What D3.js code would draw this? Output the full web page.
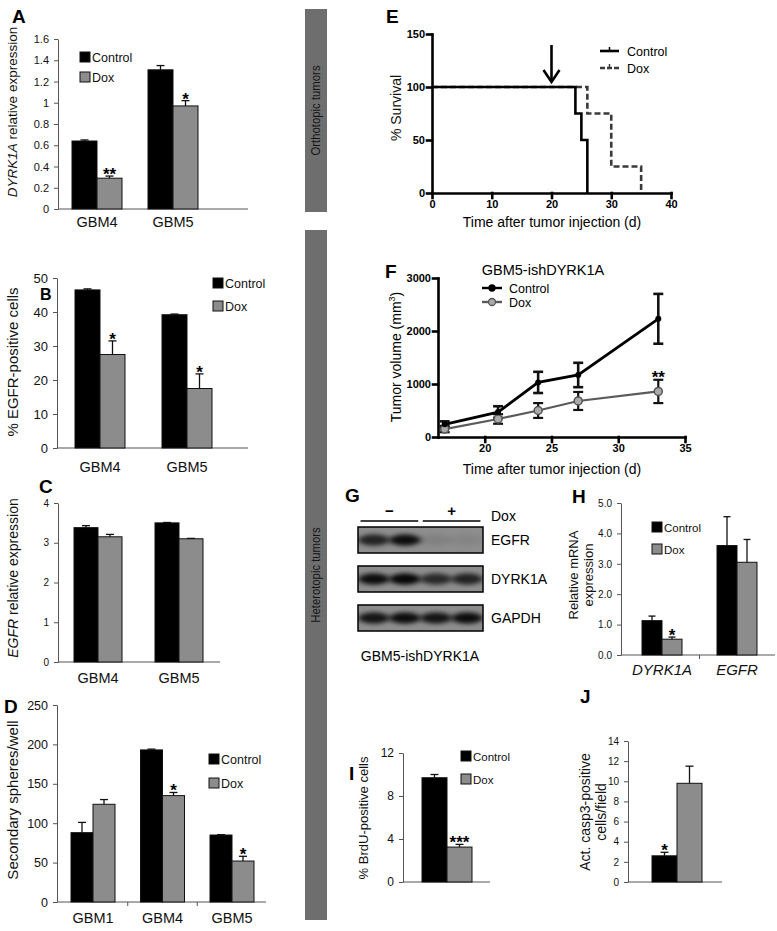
<!DOCTYPE html>
<html><head><meta charset="utf-8">
<script src="https://cdn.jsdelivr.net/npm/d3@7"></script>
<style>body{margin:0;background:#fff} svg{display:block} text{font-family:"Liberation Sans",Arial,Helvetica,sans-serif}</style>
</head><body>
<script>
// ---------------- DATA ----------------
const seriesNames = ["Control", "Dox"];

// A
const aGroups = ["GBM4", "GBM5"];
const aControl = [0.64, 1.31];
const aControlErr = [0.01, 0.04];
const aDox = [0.29, 0.97];
const aDoxErr = [0.02, 0.05];
const aStarsControl = ["", ""];
const aStarsDox = ["**", "*"];
const aTicks = [0, 0.2, 0.4, 0.6, 0.8, 1, 1.2, 1.4, 1.6];

// B
const bGroups = ["GBM4", "GBM5"];
const bControl = [46.5, 39.2];
const bControlErr = [0.3, 0.2];
const bDox = [27.5, 17.5];
const bDoxErr = [4.0, 4.3];
const bStarsControl = ["", ""];
const bStarsDox = ["*", "*"];
const bTicks = [0, 10, 20, 30, 40, 50];

// C
const cGroups = ["GBM4", "GBM5"];
const cControl = [3.38, 3.50];
const cControlErr = [0.05, 0.01];
const cDox = [3.15, 3.10];
const cDoxErr = [0.06, 0.01];
const cStarsControl = ["", ""];
const cStarsDox = ["", ""];
const cTicks = [0, 1, 2, 3, 4];

// D
const dGroups = ["GBM1", "GBM4", "GBM5"];
const dControl = [88, 193, 85];
const dControlErr = [13, 1, 0.5];
const dDox = [124, 135, 52];
const dDoxErr = [6, 4, 6];
const dStarsControl = ["", "", ""];
const dStarsDox = ["", "*", "*"];
const dTicks = [0, 50, 100, 150, 200, 250];

// E (survival)
const eTimeTicks = [0, 10, 20, 30, 40];
const eSurvTicks = [0, 50, 100, 150];
const eControlTime = [0, 24, 25, 26];
const eControlSurv = [100, 75, 50, 0];
const eDoxTime = [0, 26, 30, 35];
const eDoxSurv = [100, 75, 25, 0];
const eArrowDay = 20;

// F (tumor volume)
const fDays = [17, 21, 24, 27, 33];
const fControl = [240, 470, 1030, 1170, 2230];
const fControlErr = [55, 110, 200, 230, 470];
const fDox = [150, 340, 500, 680, 860];
const fDoxErr = [60, 90, 140, 170, 220];
const fXTicks = [20, 25, 30, 35];
const fYTicks = [0, 1000, 2000, 3000];

// G (western blot)
const gProteins = ["EGFR", "DYRK1A", "GAPDH"];
const gLaneDox = ["−", "−", "+", "+"];
const gEGFR = [0.75, 0.9, 0.08, 0.05];
const gDYRK1A = [0.9, 0.95, 0.7, 0.75];
const gGAPDH = [0.85, 0.9, 0.85, 0.9];

// H
const hGroups = ["DYRK1A", "EGFR"];
const hControl = [1.13, 3.6];
const hControlErr = [0.15, 0.95];
const hDox = [0.52, 3.05];
const hDoxErr = [0.07, 0.75];
const hStarsControl = ["", ""];
const hStarsDox = ["*", ""];
const hTicks = [0, 1, 2, 3, 4, 5];

// I
const iGroups = [""];
const iControl = [9.7];
const iControlErr = [0.3];
const iDox = [3.25];
const iDoxErr = [0.25];
const iStarsControl = [""];
const iStarsDox = ["***"];
const iTicks = [0, 4, 8, 12];

// J
const jGroups = [""];
const jControl = [2.6];
const jControlErr = [0.35];
const jDox = [9.8];
const jDoxErr = [1.7];
const jStarsControl = ["*"];
const jStarsDox = [""];
const jTicks = [0, 2, 4, 6, 8, 10, 12, 14];

// ---------------- DRAWING ----------------
const svg = d3.select("body").append("svg").attr("width", 777).attr("height", 931);
const CTRL = "#000000", DOX = "#8c8c8c";

function letter(t, x, y, size) {
  svg.append("text").attr("x", x).attr("y", y).text(t)
    .attr("font-size", size || 19).attr("font-weight", "bold");
}

function rotTitle(lines, x, y, size, gap) {
  lines.forEach((parts, li) => {
    const t = svg.append("text")
      .attr("transform", `translate(${x + li * (gap || size * 1.2)},${y}) rotate(-90)`)
      .attr("text-anchor", "middle").attr("font-size", size).attr("fill", "#111");
    parts.forEach(p => t.append("tspan").text(p[0]).attr("font-style", p[1] ? "italic" : "normal"));
  });
}

function barPanel(c) {
  const g = svg.append("g");
  const y = d3.scaleLinear().domain([0, c.yMax]).range([c.yBase, c.yTop]);
  const xc = d3.scalePoint().domain(c.groups).range(c.centers);
  const xs = d3.scaleBand().domain(seriesNames).range([-c.barW, c.barW]);
  const ax = g.append("g").attr("transform", `translate(${c.x0},0)`)
    .call(d3.axisLeft(y).tickValues(c.ticks).tickFormat(c.fmt).tickSize(4).tickSizeOuter(0).tickPadding(c.tickPad || 5));
  ax.selectAll("path,line").attr("stroke", "#555");
  ax.selectAll("text").attr("font-size", c.tickFont).attr("fill", "#111")
    .attr("font-family", c.tickFamily || "'Liberation Sans', Arial, sans-serif");
  g.append("line").attr("x1", c.x0).attr("x2", c.x1).attr("y1", c.yBase).attr("y2", c.yBase).attr("stroke", "#555");
  if (c.groupTicks) {
    for (let i = 0; i < c.groups.length - 1; i++) {
      const mx = (xc(c.groups[i]) + xc(c.groups[i + 1])) / 2;
      g.append("line").attr("x1", mx).attr("x2", mx).attr("y1", c.yBase).attr("y2", c.yBase + 4).attr("stroke", "#555");
    }
  }
  const series = [
    { name: "Control", vals: c.ctrl, errs: c.ctrlErr, stars: c.starsCtrl, fill: CTRL },
    { name: "Dox", vals: c.dox, errs: c.doxErr, stars: c.starsDox, fill: DOX }
  ];
  series.forEach(s => {
    c.groups.forEach((grp, i) => {
      const bx = xc(grp) + xs(s.name), bw = xs.bandwidth();
      const v = s.vals[i], e = s.errs[i];
      g.append("rect").attr("x", bx).attr("y", y(v)).attr("width", bw).attr("height", y(0) - y(v))
        .attr("fill", s.fill).attr("stroke", "#111").attr("stroke-width", 1);
      const cx = bx + bw / 2;
      g.append("line").attr("x1", cx).attr("x2", cx).attr("y1", y(v)).attr("y2", y(v + e)).attr("stroke", "#111").attr("stroke-width", 1.3);
      g.append("line").attr("x1", cx - c.capW / 2).attr("x2", cx + c.capW / 2).attr("y1", y(v + e)).attr("y2", y(v + e)).attr("stroke", "#111").attr("stroke-width", 1.3);
      if (s.stars && s.stars[i]) {
        g.append("text").attr("x", cx).attr("y", y(v + e) + 4).attr("text-anchor", "middle")
          .attr("font-size", 17).attr("font-weight", "bold").text(s.stars[i]);
      }
    });
  });
  if (c.labelY) {
    c.groups.forEach(grp => {
      g.append("text").attr("x", xc(grp)).attr("y", c.labelY).attr("text-anchor", "middle")
        .attr("font-size", c.labelSize).attr("font-style", c.italicLabels ? "italic" : "normal").attr("fill", "#111").text(grp);
    });
  }
  if (c.legend) {
    series.forEach((s, i) => {
      const ly = c.legend.y + i * c.legend.dy;
      g.append("rect").attr("x", c.legend.x).attr("y", ly - 5).attr("width", 10).attr("height", 10)
        .attr("fill", s.fill).attr("stroke", "#111").attr("stroke-width", 1);
      g.append("text").attr("x", c.legend.x + 12).attr("y", ly + 4.5).attr("font-size", c.legend.size).attr("fill", "#111").text(s.name);
    });
  }
  if (c.title) rotTitle(c.title.lines, c.title.x, c.title.y, c.title.size, c.title.gap);
}

// side bars
svg.append("rect").attr("x", 305).attr("y", 9).attr("width", 22).attr("height", 203).attr("fill", "#6e6e6e");
svg.append("rect").attr("x", 305).attr("y", 230).attr("width", 22).attr("height", 690).attr("fill", "#6e6e6e");
[["Orthotopic tumors", 110.5], ["Heterotopic tumors", 575]].forEach(([t, cy]) => {
  svg.append("text").attr("transform", `translate(320,${cy}) rotate(-90)`).attr("text-anchor", "middle")
    .attr("font-size", 12.5).attr("fill", "#151515").attr("textLength", t.length * 5.3).attr("lengthAdjust", "spacingAndGlyphs").text(t);
});

// Panel A
letter("A", 12, 23);
barPanel({ groups: aGroups, ctrl: aControl, ctrlErr: aControlErr, dox: aDox, doxErr: aDoxErr,
  starsCtrl: aStarsControl, starsDox: aStarsDox, ticks: aTicks, fmt: d => String(d), tickFont: 11,
  x0: 58, x1: 248, yBase: 209, yTop: 39, yMax: 1.6, centers: [97, 173], barW: 25, capW: 8,
  labelY: 227, labelSize: 14.5, legend: { x: 80, y: 57, dy: 20, size: 12.5 },
  title: { lines: [[["DYRK1A", true], [" relative expression", false]]], x: 17, y: 112, size: 13.5 } });

// Panel B
letter("B", 40, 300, 16);
barPanel({ groups: bGroups, ctrl: bControl, ctrlErr: bControlErr, dox: bDox, doxErr: bDoxErr,
  starsCtrl: bStarsControl, starsDox: bStarsDox, ticks: bTicks, fmt: d => String(d), tickFont: 13,
  x0: 57, x1: 248, yBase: 448, yTop: 278, yMax: 50, centers: [100, 187], barW: 25, capW: 8,
  labelY: 472, labelSize: 14.5, legend: { x: 213, y: 283, dy: 23, size: 12.5 },
  title: { lines: [[["% EGFR-positive cells", false]]], x: 18, y: 362, size: 15 } });

// Panel C
letter("C", 39, 493);
barPanel({ groups: cGroups, ctrl: cControl, ctrlErr: cControlErr, dox: cDox, doxErr: cDoxErr,
  starsCtrl: cStarsControl, starsDox: cStarsDox, ticks: cTicks, fmt: d => String(d), tickFont: 10,
  tickFamily: "'DejaVu Sans', sans-serif",
  x0: 58, x1: 220, yBase: 662, yTop: 503, yMax: 4, centers: [98, 179], barW: 24, capW: 8,
  labelY: 683, labelSize: 14.5,
  title: { lines: [[["EGFR", true], [" relative expression", false]]], x: 18, y: 578, size: 14 } });

// Panel D
letter("D", 4, 713);
barPanel({ groups: dGroups, ctrl: dControl, ctrlErr: dControlErr, dox: dDox, doxErr: dDoxErr,
  starsCtrl: dStarsControl, starsDox: dStarsDox, ticks: dTicks, fmt: d => String(d), tickFont: 12.5,
  x0: 57, x1: 266, yBase: 902, yTop: 705, yMax: 250, centers: [93, 232], barW: 22, capW: 8,
  labelY: 923, labelSize: 14.5, groupTicks: true, legend: { x: 209, y: 759, dy: 24, size: 12.5 },
  title: { lines: [[["Secondary spheres/well", false]]], x: 18, y: 800, size: 15 } });

// Panel E
letter("E", 386, 23);
(function () {
  const g = svg.append("g");
  const x = d3.scaleLinear().domain([0, 40]).range([432, 671]);
  const y = d3.scaleLinear().domain([0, 150]).range([193, 34]);
  const ya = g.append("g").attr("transform", "translate(432,0)")
    .call(d3.axisLeft(y).tickValues(eSurvTicks).tickSize(5).tickSizeOuter(0).tickPadding(2));
  const xa = g.append("g").attr("transform", "translate(0,193)")
    .call(d3.axisBottom(x).tickValues(eTimeTicks).tickSize(5).tickSizeOuter(0).tickPadding(2));
  [ya, xa].forEach(a => {
    a.selectAll("path,line").attr("stroke", "#000").attr("stroke-width", 2.6).attr("stroke-linecap", "square");
    a.selectAll("text").attr("font-size", 11).attr("font-weight", "bold").attr("fill", "#000");
  });
  const line = d3.line().x(d => x(d[0])).y(d => y(d[1])).curve(d3.curveStepAfter);
  g.append("path").datum(d3.zip(eDoxTime, eDoxSurv)).attr("d", line).attr("fill", "none")
    .attr("stroke", "#3a3a3a").attr("stroke-width", 2.6).attr("stroke-dasharray", "6,3");
  g.append("path").datum(d3.zip(eControlTime, eControlSurv)).attr("d", line).attr("fill", "none")
    .attr("stroke", "#000").attr("stroke-width", 2.6);
  const ax = x(eArrowDay);
  g.append("line").attr("x1", ax).attr("x2", ax).attr("y1", 45).attr("y2", 81).attr("stroke", "#000").attr("stroke-width", 2.6);
  g.append("path").attr("d", `M${ax - 8},${70} L${ax},${82} L${ax + 8},${70}`).attr("fill", "none").attr("stroke", "#000").attr("stroke-width", 2.6);
  [["Control", 51, null, "#000"], ["Dox", 68, "5,2", "#3a3a3a"]].forEach(([t, ly, dash, col]) => {
    g.append("line").attr("x1", 600).attr("x2", 619).attr("y1", ly).attr("y2", ly).attr("stroke", col).attr("stroke-width", 2.6).attr("stroke-dasharray", dash);
    g.append("line").attr("x1", 609.5).attr("x2", 609.5).attr("y1", ly - 4).attr("y2", ly + 1).attr("stroke", col).attr("stroke-width", 1.5);
    g.append("text").attr("x", 627).attr("y", ly + 4.5).attr("font-size", 12.5).text(t);
  });
  rotTitle([[["% Survival", false]]], 401, 108, 14);
  g.append("text").attr("x", 552).attr("y", 227).attr("text-anchor", "middle").attr("font-size", 14).text("Time after tumor injection (d)");
})();

// Panel F
letter("F", 385, 278);
(function () {
  const g = svg.append("g");
  const x = d3.scaleLinear().domain([16.5, 35]).range([438, 685]);
  const y = d3.scaleLinear().domain([0, 3000]).range([437, 278]);
  const ya = g.append("g").attr("transform", "translate(438,0)")
    .call(d3.axisLeft(y).tickValues(fYTicks).tickFormat(d3.format("d")).tickSize(5).tickSizeOuter(0).tickPadding(2));
  const xa = g.append("g").attr("transform", "translate(0,437)")
    .call(d3.axisBottom(x).tickValues(fXTicks).tickSize(5).tickSizeOuter(0).tickPadding(2));
  [ya, xa].forEach(a => {
    a.selectAll("path,line").attr("stroke", "#000").attr("stroke-width", 2.6).attr("stroke-linecap", "square");
    a.selectAll("text").attr("font-size", 11).attr("font-weight", "bold").attr("fill", "#000");
  });
  const line = d3.line().x(d => x(d[0])).y(d => y(d[1]));
  const sets = [
    { v: fDox, e: fDoxErr, col: "#5a5a5a", ew: 2.2, lw: 2.2 },
    { v: fControl, e: fControlErr, col: "#000", ew: 2.6, lw: 2.8 }
  ];
  sets.forEach(s => {
    fDays.forEach((d, i) => {
      const cx = x(d);
      g.append("line").attr("x1", cx).attr("x2", cx).attr("y1", y(s.v[i] - s.e[i])).attr("y2", y(s.v[i] + s.e[i])).attr("stroke", "#111").attr("stroke-width", s.ew);
      [s.v[i] - s.e[i], s.v[i] + s.e[i]].forEach(yy => g.append("line").attr("x1", cx - 5).attr("x2", cx + 5).attr("y1", y(yy)).attr("y2", y(yy)).attr("stroke", "#111").attr("stroke-width", s.ew));
    });
  });
  sets.forEach(s => {
    g.append("path").datum(d3.zip(fDays, s.v)).attr("d", line).attr("fill", "none").attr("stroke", s.col).attr("stroke-width", s.lw);
  });
  fDays.forEach((d, i) => {
    g.append("circle").attr("cx", x(d)).attr("cy", y(fDox[i])).attr("r", 4).attr("fill", "#aaa").attr("stroke", "#555").attr("stroke-width", 1.5);
    g.append("circle").attr("cx", x(d)).attr("cy", y(fControl[i])).attr("r", 3).attr("fill", "#000");
  });
  g.append("text").attr("x", x(fDays[4])).attr("y", y(fDox[4] + fDoxErr[4]) + 3).attr("text-anchor", "middle").attr("font-size", 17).attr("font-weight", "bold").text("**");
  [["Control", 288, "#000", 3, "#000", "#000"], ["Dox", 302, "#5a5a5a", 3.5, "#aaa", "#555"]].forEach(([t, ly, col, r, fill, st]) => {
    g.append("line").attr("x1", 482).attr("x2", 502).attr("y1", ly).attr("y2", ly).attr("stroke", col).attr("stroke-width", 2.4);
    g.append("circle").attr("cx", 492).attr("cy", ly).attr("r", r).attr("fill", fill).attr("stroke", st).attr("stroke-width", 1.3);
    g.append("text").attr("x", 509).attr("y", ly + 4.5).attr("font-size", 12.5).text(t);
  });
  g.append("text").attr("x", 543).attr("y", 275).attr("text-anchor", "middle").attr("font-size", 14.5).text("GBM5-ishDYRK1A");
  const tt = svg.append("text").attr("transform", "translate(401,357) rotate(-90)").attr("text-anchor", "middle").attr("font-size", 14);
  tt.append("tspan").text("Tumor volume (mm");
  tt.append("tspan").text("3").attr("font-size", 9).attr("dy", -6);
  tt.append("tspan").text(")").attr("dy", 6);
  g.append("text").attr("x", 552).attr("y", 474).attr("text-anchor", "middle").attr("font-size", 14).text("Time after tumor injection (d)");
})();

// Panel G (western blot)
letter("G", 345, 502);
(function () {
  const g = svg.append("g");
  const bx0 = 358, bx1 = 483;
  const lane = d3.scaleBand().domain(d3.range(4)).range([bx0, bx1]).paddingInner(0.08).paddingOuter(0.05);
  const row = d3.scaleBand().domain(gProteins).range([527, 631]).paddingInner(0.333);
  const intens = { EGFR: gEGFR, DYRK1A: gDYRK1A, GAPDH: gGAPDH };
  const defs = svg.append("defs");
  defs.append("filter").attr("id", "blur").attr("x", "-30%").attr("y", "-80%").attr("width", "160%").attr("height", "260%")
    .append("feGaussianBlur").attr("stdDeviation", "3,2.2");
  gProteins.forEach((p, ri) => {
    const ry = row(p), rh = row.bandwidth();
    defs.append("clipPath").attr("id", "clip" + ri).append("rect").attr("x", bx0).attr("y", ry).attr("width", bx1 - bx0).attr("height", rh);
    g.append("rect").attr("x", bx0).attr("y", ry).attr("width", bx1 - bx0).attr("height", rh).attr("fill", "#8d8d8d");
    const cg = g.append("g").attr("clip-path", `url(#clip${ri})`);
    intens[p].forEach((v, li) => {
      cg.append("ellipse").attr("cx", lane(li) + lane.bandwidth() / 2).attr("cy", ry + rh / 2)
        .attr("rx", lane.bandwidth() * 0.55).attr("ry", rh * 0.22).attr("fill", "#000").attr("opacity", v).attr("filter", "url(#blur)");
    });
    g.append("rect").attr("x", bx0).attr("y", ry).attr("width", bx1 - bx0).attr("height", rh).attr("fill", "none").attr("stroke", "#000").attr("stroke-width", 1.5);
    g.append("text").attr("x", 491).attr("y", ry + rh / 2 + 5).attr("font-size", 14).text(p);
  });
  const groupsG = [["−", 0, 1], ["+", 2, 3]];
  groupsG.forEach(([s, a, b]) => {
    const xa = lane(a) - 1, xb = lane(b) + lane.bandwidth() + 1;
    g.append("line").attr("x1", xa + 2).attr("x2", xb - 2).attr("y1", 521).attr("y2", 521).attr("stroke", "#000").attr("stroke-width", 1.3);
    g.append("text").attr("x", (xa + xb) / 2).attr("y", 516).attr("text-anchor", "middle").attr("font-size", 15).attr("font-weight", "bold").text(s);
  });
  g.append("text").attr("x", 491).attr("y", 521).attr("font-size", 14).text("Dox");
  g.append("text").attr("x", 420).attr("y", 661).attr("text-anchor", "middle").attr("font-size", 14).text("GBM5-ishDYRK1A");
})();

// Panel H
letter("H", 572, 503);
barPanel({ groups: hGroups, ctrl: hControl, ctrlErr: hControlErr, dox: hDox, doxErr: hDoxErr,
  starsCtrl: hStarsControl, starsDox: hStarsDox, ticks: hTicks, fmt: d3.format(".1f"), tickFont: 10,
  x0: 621, x1: 775, yBase: 655, yTop: 503, yMax: 5, centers: [662, 737], barW: 20, capW: 7,
  labelY: 675, labelSize: 15, italicLabels: true, groupTicks: true, legend: { x: 652, y: 527, dy: 22, size: 11.5 },
  title: { lines: [[["Relative mRNA", false]], [["expression", false]]], x: 578, y: 575, size: 13, gap: 14.5 } });

// Panel I
letter("I", 349, 780);
barPanel({ groups: iGroups, ctrl: iControl, ctrlErr: iControlErr, dox: iDox, doxErr: iDoxErr,
  starsCtrl: iStarsControl, starsDox: iStarsDox, ticks: iTicks, fmt: d => String(d), tickFont: 12,
  x0: 403, x1: 490, yBase: 882, yTop: 753, yMax: 12, centers: [447, 447], barW: 25, capW: 8,
  legend: { x: 461, y: 756, dy: 23, size: 11.5 },
  title: { lines: [[["% BrdU-positive cells", false]]], x: 368, y: 818, size: 13 } });

// Panel J
letter("J", 580, 703);
barPanel({ groups: jGroups, ctrl: jControl, ctrlErr: jControlErr, dox: jDox, doxErr: jDoxErr,
  starsCtrl: jStarsControl, starsDox: jStarsDox, ticks: jTicks, fmt: d => String(d), tickFont: 10,
  tickFamily: "'DejaVu Sans', sans-serif",
  x0: 628, x1: 722, yBase: 882, yTop: 741, yMax: 14, centers: [677, 677], barW: 25, capW: 8,
  title: { lines: [[["Act. casp3-positive", false]], [["cells/field", false]]], x: 590, y: 812, size: 14, gap: 16 } });
</script>
</body></html>
